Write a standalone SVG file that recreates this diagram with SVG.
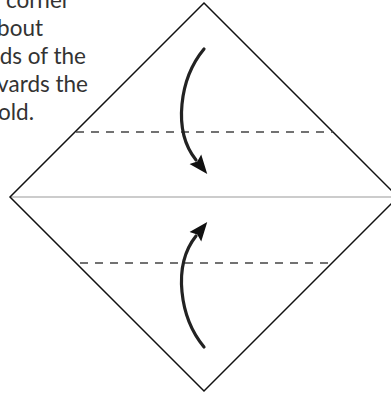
<svg xmlns="http://www.w3.org/2000/svg" width="391" height="394" viewBox="0 0 391 394">
<style>
.txt{font-family:Lato,"Noto Sans","Liberation Sans",sans-serif;font-size:22.5px;fill:#333;text-anchor:end}
.edge{fill:none;stroke:#111;stroke-width:1.5}
.dash{fill:none;stroke:#444;stroke-width:1.5;stroke-dasharray:8 7}
.arrow{fill:none;stroke:#222;stroke-width:3.2;stroke-linecap:round}
</style>
<defs>
<marker id="ah" viewBox="0 -8 20 16" refX="1" refY="0" markerWidth="20" markerHeight="16" markerUnits="userSpaceOnUse" orient="auto">
<path d="M0,-7.5 L19,0 L0,7.5 L3,0 Z" fill="#111"/>
</marker>
</defs>
<rect width="391" height="394" fill="#fff"/>
<g id="caption">
<text class="txt" x="70" y="8">o corner</text>
<text class="txt" x="43" y="36">bout</text>
<text class="txt" x="86" y="64">ds of the</text>
<text class="txt" x="88" y="92">vards the</text>
<text class="txt" x="34" y="120">old.</text>
</g>
<g id="paper">
<line x1="10" y1="197" x2="391" y2="197" stroke="#bbb" stroke-width="1.5"/>
<path class="edge" d="M204,3 L398,197 L204,391 L10,197 Z"/>
</g>
<g id="fold-lines">
<line class="dash" x1="76" y1="132" x2="333" y2="132"/>
<line class="dash" x1="80" y1="263" x2="332" y2="263"/>
</g>
<g id="connectors">
<path class="arrow" d="M204,49 C180,78 172,130 196,160" marker-end="url(#ah)"/>
<path class="arrow" d="M204,347 C180,318 172,266 196,236" marker-end="url(#ah)"/>
</g>
</svg>
